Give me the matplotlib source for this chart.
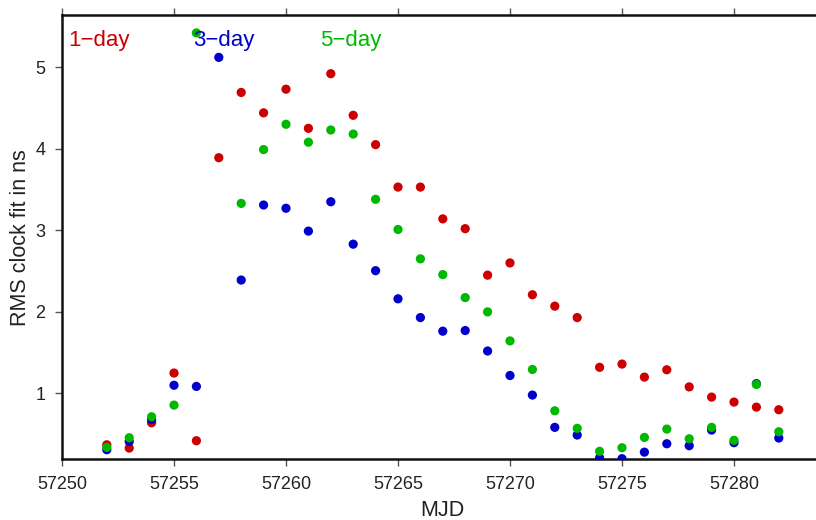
import matplotlib
matplotlib.use("Agg")
import matplotlib.pyplot as plt

plt.rcParams['font.family'] = ['Liberation Sans', 'DejaVu Sans']

# MJD days
mjd_red = [57252, 57253, 57254, 57255, 57256, 57257, 57258, 57259, 57260, 57261,
           57262, 57263, 57264, 57265, 57266, 57267, 57268, 57269, 57270, 57271,
           57272, 57273, 57274, 57275, 57276, 57277, 57278, 57279, 57280, 57281, 57282]
rms_1day = [0.37, 0.33, 0.64, 1.25, 0.42, 3.89, 4.69, 4.44, 4.73, 4.25,
            4.92, 4.41, 4.05, 3.53, 3.53, 3.14, 3.02, 2.45, 2.60, 2.21,
            2.07, 1.93, 1.32, 1.36, 1.20, 1.29, 1.08, 0.955, 0.894, 0.832, 0.80]

mjd_blue = [57252, 57253, 57254, 57255, 57256, 57257, 57258, 57259, 57260, 57261,
            57262, 57263, 57264, 57265, 57266, 57267, 57268, 57269, 57270, 57271,
            57272, 57273, 57274, 57275, 57276, 57277, 57278, 57279, 57280, 57281, 57282]
rms_3day = [0.31, 0.41, 0.68, 1.10, 1.086, 5.12, 2.39, 3.31, 3.27, 2.99,
            3.35, 2.83, 2.505, 2.16, 1.93, 1.763, 1.771, 1.52, 1.22, 0.98,
            0.584, 0.49, 0.21, 0.20, 0.28, 0.383, 0.359, 0.551, 0.396, 1.12, 0.453]

mjd_green = [57252, 57253, 57254, 57255, 57256, 57258, 57259, 57260, 57261,
             57262, 57263, 57264, 57265, 57266, 57267, 57268, 57269, 57270, 57271,
             57272, 57273, 57274, 57275, 57276, 57277, 57278, 57279, 57280, 57281, 57282]
rms_5day = [0.339, 0.457, 0.714, 0.857, 5.42, 3.33, 3.99, 4.30, 4.08,
            4.23, 4.18, 3.38, 3.01, 2.65, 2.457, 2.175, 2.00, 1.644, 1.294,
            0.787, 0.572, 0.29, 0.334, 0.461, 0.563, 0.444, 0.584, 0.425, 1.11, 0.53]

labels = ["1\u2212day", "3\u2212day", "5\u2212day"]
label_x = [57250.27, 57255.85, 57261.5]
colors = ["#cc0000", "#0000cc", "#00b800"]

xticks = [57250, 57255, 57260, 57265, 57270, 57275, 57280]
yticks = [1, 2, 3, 4, 5]

W, H = 816, 520
fig = plt.figure(figsize=(W / 100, H / 100), dpi=100)
ax = fig.add_axes([62 / W, (H - 459) / H, (823.6 - 62) / W, (459 - 15.3) / H])

for xs, ys, c in [(mjd_red, rms_1day, colors[0]),
                  (mjd_blue, rms_3day, colors[1]),
                  (mjd_green, rms_5day, colors[2])]:
    ax.scatter(xs, ys, s=44, color=c, edgecolors='none', zorder=3)

for t, lx, c in zip(labels, label_x, colors):
    ax.text(lx, 5.26, t, color=c, fontsize=16, ha='left', va='baseline', zorder=4)

ax.set_xlim(57250, 57284)
ax.set_ylim(0.196, 5.636)
ax.set_xticks(xticks)
ax.set_xticklabels([str(v) for v in xticks])
ax.set_yticks(yticks)
ax.set_yticklabels([str(v) for v in yticks])

ax.spines['right'].set_visible(False)
for s in ['left', 'bottom', 'top']:
    ax.spines[s].set_linewidth(1.8)
    ax.spines[s].set_color('#111111')

ax.tick_params(axis='both', direction='out', length=5, width=1, color='#555555',
               labelsize=13, labelcolor='#222222', pad=7)
ax.tick_params(axis='x', top=True, labeltop=False)

ax.set_xlabel("MJD", fontsize=15.5, color='#222222', labelpad=5)
ax.set_ylabel("RMS clock fit in ns", fontsize=15.5, color='#222222', labelpad=3)

fig.savefig("out.png", dpi=100)
